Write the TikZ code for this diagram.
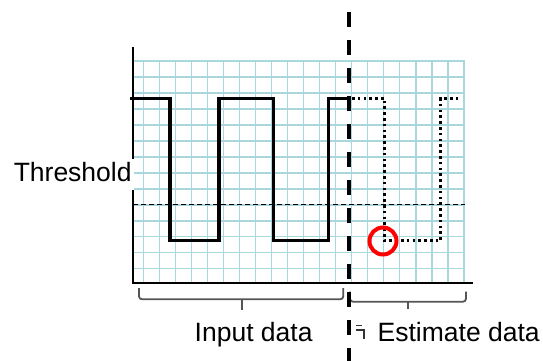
\documentclass[tikz,border=0pt]{standalone}
\usepackage{fontspec}
\setmainfont{Liberation Sans}
\definecolor{gridcyan}{RGB}{168,216,222}
\definecolor{bracegray}{RGB}{85,85,85}
\begin{document}
\begin{tikzpicture}[x=1pt,y=-1pt,
  gridline/.style={gridcyan, line width=1.4pt},
  axisline/.style={black, line width=1.7pt},
  signal/.style={black, line width=3.4pt, line join=miter},
  estim/.style={black, line width=2.6pt, dash pattern=on 2.6pt off 3.2pt},
  thresh/.style={black, line width=1.5pt, dash pattern=on 5pt off 3pt},
  splitline/.style={black, line width=3.6pt, dash pattern=on 15pt off 13pt},
  bracepath/.style={bracegray, line width=1.8pt, rounded corners=3pt},
  lbl/.style={font=\fontsize{26.5}{30}\selectfont, inner sep=0pt},
  hit/.style={red, line width=4pt},
  mark glyph/.style={black!80, line width=1.3pt}]
\useasboundingbox (0,0) rectangle (543,361);
% grid
\foreach \k in {0,...,20} \draw[gridline] ({143.3+16.03*\k},61) -- ({143.3+16.03*\k},282);
\foreach \k in {0,...,13} \draw[gridline] (133.3,{61+15.98*\k}) -- (464.6,{61+15.98*\k});
% axes
\coordinate (ytop) at (133.3,46.7);
\coordinate (orig) at (133.3,282.7);
\coordinate (xend) at (473.3,282.7);
\draw[axisline] (ytop) -- (orig) -- (xend);
% threshold
\coordinate (th0) at (133.3,204.3);
\coordinate (th1) at (465,204.3);
\draw[thresh] (th0) -- (th1);
% input signal
\draw[signal] (130,98.3) -- (170,98.3) -- (170,240.7) -- (219,240.7) -- (219,98.3)
  -- (273.3,98.3) -- (273.3,240.7) -- (328.3,240.7) -- (328.3,98.3) -- (349,98.3);
% estimated signal
\draw[estim] (352,98.3) -- (384.5,98.3) -- (384.5,240.7) -- (440.7,240.7) -- (440.7,98.3) -- (459,98.3);
% circled point
\draw[hit] (383,241) circle[radius=13.5];
% braces
\draw[bracepath] (139,288) -- (139,299.3) -- (343.3,299.3) -- (343.3,288);
\draw[bracegray, line width=1.8pt] (241.7,299.3) -- (241.7,309.5);
\draw[bracepath] (350,291.7) -- (350,301.7) -- (466,301.7) -- (466,291.7);
\draw[bracegray, line width=1.8pt] (408.3,301.7) -- (408.3,309);
% labels
\node[lbl, fill=white, inner xsep=2pt, inner ysep=3pt, text depth=5pt, anchor=base east] (thr) at (133.8,181.7) {Threshold};
\node[lbl, anchor=base west] (inp) at (194.5,341.7) {Input data};
\node[lbl, anchor=base west] (est) at (377.5,341.7) {Estimate data};
% small mark
\draw[mark glyph] (355.5,325.5) -- (361.5,325.5);
\draw[mark glyph] (355.5,330) -- (364,330) -- (364,338.5);
% split line
\coordinate (s0) at (349,12);
\coordinate (s1) at (349,361);
\draw[splitline] (s0) -- (s1);
\end{tikzpicture}
\end{document}
